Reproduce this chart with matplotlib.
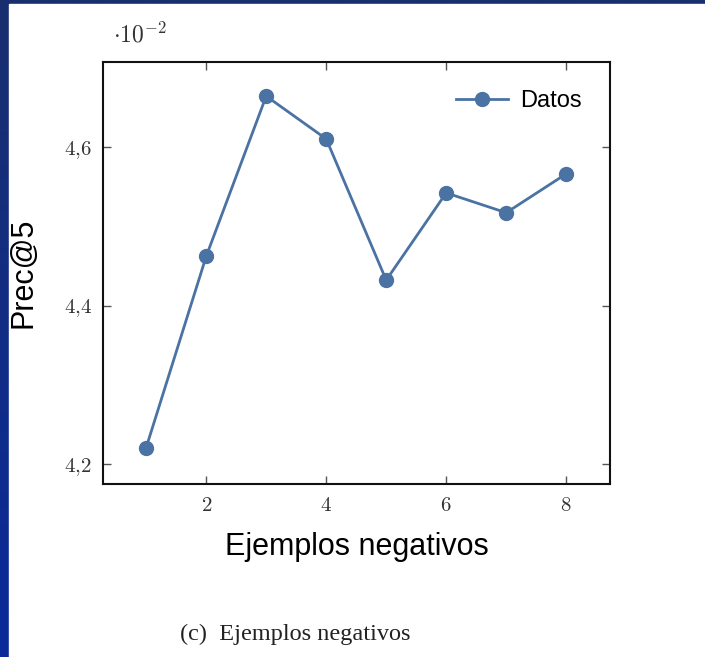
import numpy as np
import matplotlib
matplotlib.use("Agg")
import matplotlib.pyplot as plt
from matplotlib.ticker import FuncFormatter
from matplotlib.patches import Rectangle

# data (Prec@5, in units of 1e-2)
ejemplos = [1, 2, 3, 4, 5, 6, 7, 8]
prec5 = [4.221, 4.462, 4.664, 4.610, 4.432, 4.542, 4.517, 4.566]
yticks = [4.2, 4.4, 4.6]
xticks = [2, 4, 6, 8]

plt.rcParams['mathtext.fontset'] = 'cm'

fig = plt.figure(figsize=(7.05, 6.57), dpi=100)

# slide background: blue gradient with white page on top
bg = fig.add_axes([0, 0, 1, 1], zorder=-10)
grad = np.linspace(0, 1, 256).reshape(-1, 1)
cmap = matplotlib.colors.LinearSegmentedColormap.from_list(
    "slide", ["#0a2a9a", "#1a2f6e"])
bg.imshow(grad, aspect='auto', cmap=cmap, extent=[0, 1, 0, 1], origin='lower')
bg.add_patch(Rectangle((9 / 705, 0), 1, 1 - 4 / 657, color='white',
                       transform=bg.transAxes))
bg.set_xlim(0, 1)
bg.set_ylim(0, 1)
bg.axis('off')

ax = fig.add_axes([103 / 705, 1 - 484 / 657, 507 / 705, 422 / 657])
ax.plot(ejemplos, prec5, color='#4a72a3', lw=2, marker='o', markersize=10,
        label='Datos')

ax.set_xlim(0.28, 8.73)
ax.set_ylim(4.175, 4.707)
ax.set_xticks(xticks)
ax.set_yticks(yticks)
ax.xaxis.set_major_formatter(FuncFormatter(lambda v, p: f'${v:.0f}$'))
ax.yaxis.set_major_formatter(
    FuncFormatter(lambda v, p: '$' + f'{v:.1f}'.replace('.', '{,}') + '$'))
ax.tick_params(direction='in', length=6, width=1, colors='#555555',
               labelcolor='#333333', labelsize=15, top=True, right=True, pad=8)
for s in ax.spines.values():
    s.set_linewidth(1.5)
    s.set_color('#111111')

ax.set_xlabel('Ejemplos negativos', fontsize=22, family='Liberation Sans',
              labelpad=12)
ax.set_ylabel('Prec@5', fontsize=22, family='Liberation Sans', labelpad=18)

ax.text(0.02, 1.035, r'$\cdot 10^{-2}$', transform=ax.transAxes, fontsize=17,
        color='#333333', va='bottom')

leg = ax.legend(loc='upper right', frameon=False,
                prop={'family': 'Liberation Sans', 'size': 17},
                handlelength=2.2, handletextpad=0.5, borderaxespad=0.8)

fig.text(295 / 705, 1 - 634 / 657, '(c)  Ejemplos negativos', fontsize=17.5,
         family='Liberation Serif', ha='center', va='center', color='#222222')

fig.savefig('out.png', dpi=100)
